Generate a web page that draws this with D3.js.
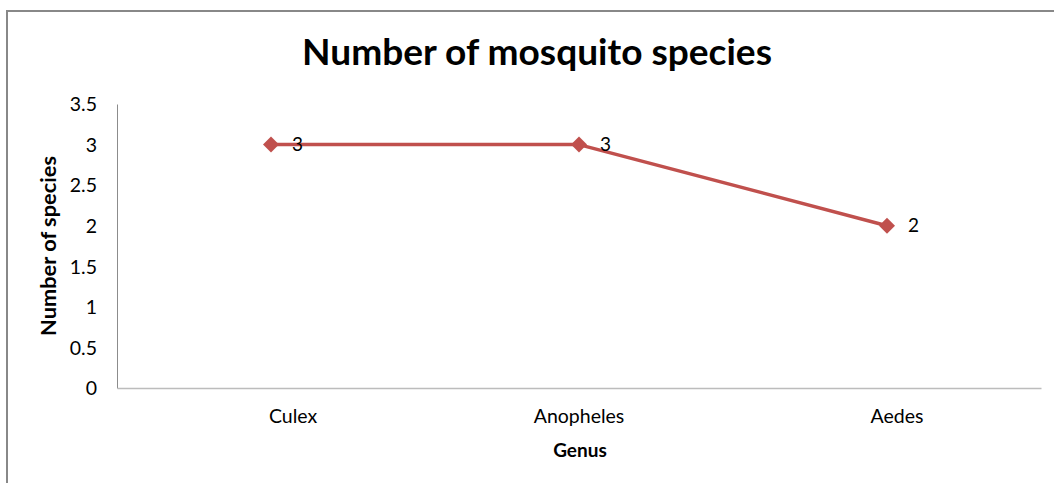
<!DOCTYPE html>
<html>
<head>
<meta charset="utf-8">
<script src="https://cdn.jsdelivr.net/npm/d3@7/dist/d3.min.js"></script>
<style>
  html, body { margin: 0; padding: 0; background: #fff; }
  svg { display: block; }
  text { font-family: Lato, "Open Sans", sans-serif; fill: #000; }
</style>
</head>
<body>
<svg id="chart" width="1054" height="483"></svg>
<script>
// Number of mosquito species recorded per genus
const genera = ["Culex", "Anopheles", "Aedes"];
const speciesCount = [3, 3, 2];
const yTicks = [0, 0.5, 1, 1.5, 2, 2.5, 3, 3.5];

const W = 1054, H = 483;
const plot = { left: 117, right: 1041, top: 104, bottom: 388 };

const svg = d3.select("#chart");

// Outer chart frame (runs off the right and bottom edges)
svg.append("rect")
  .attr("x", 7).attr("y", 11)
  .attr("width", W + 20).attr("height", H + 20)
  .attr("fill", "none")
  .attr("stroke", "#888")
  .attr("stroke-width", 2);

const x = d3.scaleBand().domain(genera).range([plot.left, plot.right]);
const y = d3.scaleLinear().domain([0, 3.5]).range([plot.bottom, plot.top]);

// Shrink or grow a text's font size so it spans a given width
function fitWidth(sel, target) {
  const node = sel.node();
  const fs = parseFloat(sel.attr("font-size"));
  const w = node.getComputedTextLength();
  sel.attr("font-size", (fs * target / w).toFixed(2));
}

// Title
svg.append("text")
  .attr("x", 537).attr("y", 65)
  .attr("text-anchor", "middle")
  .attr("font-weight", "bold")
  .attr("font-size", 34)
  .text("Number of mosquito species")
  .call(fitWidth, 470);

// Y axis
const yAxis = d3.axisLeft(y).tickValues(yTicks).tickSize(0).tickPadding(20)
  .tickFormat(d => String(d));
const gy = svg.append("g").attr("transform", `translate(${plot.left},0)`).call(yAxis);
gy.select(".domain").attr("stroke", "#8c8c8c").attr("stroke-width", 1);
gy.selectAll(".tick text")
  .attr("font-size", 19.5)
  .attr("font-family", "Lato, 'Open Sans', sans-serif")
  .attr("fill", "#000")
  .attr("dy", "0.35em");

// X axis
const xAxis = d3.axisBottom(x).tickSize(0).tickPadding(0);
const gx = svg.append("g").attr("transform", `translate(0,${plot.bottom})`).call(xAxis);
gx.select(".domain").attr("stroke", "#bcbcbc").attr("stroke-width", 1.5);
// small horizontal nudges of the category labels
const labelNudge = { Culex: 22, Anopheles: 0, Aedes: 10 };
gx.selectAll(".tick text")
  .attr("font-size", 19.5)
  .attr("font-family", "Lato, 'Open Sans', sans-serif")
  .attr("fill", "#000")
  .attr("dy", 0)
  .attr("y", 35)
  .attr("x", d => labelNudge[d]);

// Axis titles
svg.append("text")
  .attr("x", 580).attr("y", 457)
  .attr("text-anchor", "middle")
  .attr("font-weight", "bold")
  .attr("font-size", 19)
  .text("Genus");

svg.append("text")
  .attr("transform", `translate(56,${(plot.top + plot.bottom) / 2}) rotate(-90)`)
  .attr("text-anchor", "middle")
  .attr("font-weight", "bold")
  .attr("font-size", 17)
  .text("Number  of species")
  .call(fitWidth, 180);

// Series line
const cx = (d, i) => x(genera[i]) + x.bandwidth() / 2;
const line = d3.line().x(cx).y(d => y(d));
svg.append("path")
  .datum(speciesCount)
  .attr("d", line)
  .attr("fill", "none")
  .attr("stroke", "#c0504d")
  .attr("stroke-width", 3.5)
  .attr("stroke-linejoin", "round");

// Diamond markers
svg.selectAll(".marker")
  .data(speciesCount)
  .join("path")
  .attr("class", "marker")
  .attr("d", d3.symbol(d3.symbolSquare, 128)())
  .attr("transform", (d, i) => `translate(${cx(d, i)},${y(d)}) rotate(45)`)
  .attr("fill", "#c0504d");

// Value labels
svg.selectAll(".value")
  .data(speciesCount)
  .join("text")
  .attr("class", "value")
  .attr("x", (d, i) => cx(d, i) + 21)
  .attr("y", d => y(d))
  .attr("dy", "0.35em")
  .attr("font-size", 19)
  .text(d => d);
</script>
</body>
</html>
